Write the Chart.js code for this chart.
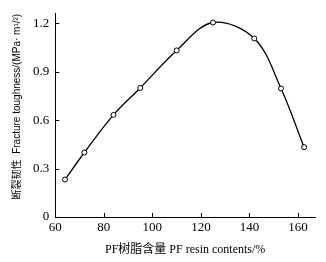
<!DOCTYPE html>
<html lang="zh">
<head>
  <meta charset="UTF-8" />
  <title>PF resin</title>
  <style>
    * { margin: 0; padding: 0; }
    body { background: #fff; }
  </style>
</head>
<body>
  <canvas id="myChart" width="326" height="262"></canvas>
  <script src="https://cdn.jsdelivr.net/npm/chart.js@4"></script>
  <script>
    const resinContent = [64, 72, 84, 95, 110, 125, 142, 153, 162.5];
    const toughness = [0.232, 0.40, 0.633, 0.80, 1.033, 1.206, 1.107, 0.797, 0.433];
    const xTicks = [60, 80, 100, 120, 140, 160];
    const yTicks = [0, 0.3, 0.6, 0.9, 1.2];

    const serif = "'Liberation Serif', 'DejaVu Serif', serif";
    const xTitleFont = "'Liberation Serif', 'Noto Sans CJK SC', serif";
    const yTitleFont = "'Liberation Sans Narrow', 'Liberation Sans', 'Noto Sans CJK SC', sans-serif";

    // inward tick marks, like the printed figure
    const innerTicks = {
      id: "innerTicks",
      afterDraw(chart) {
        const c = chart.ctx;
        const x = chart.scales.x;
        const y = chart.scales.y;
        c.save();
        c.strokeStyle = "#000";
        c.lineWidth = 1;
        c.beginPath();
        xTicks.forEach(v => {
          const px = Math.round(x.getPixelForValue(v)) + 0.5;
          c.moveTo(px, y.bottom);
          c.lineTo(px, y.bottom - 4);
        });
        yTicks.forEach(v => {
          const py = Math.round(y.getPixelForValue(v)) + 0.5;
          c.moveTo(x.left, py);
          c.lineTo(x.left + 4, py);
        });
        c.stroke();
        c.restore();
      }
    };

    const data = {
      datasets: [{
        data: resinContent.map((v, i) => ({ x: v, y: toughness[i] })),
        borderColor: "#000",
        borderWidth: 1.3,
        tension: 0.35,
        pointRadius: 2.5,
        pointBackgroundColor: "#fff",
        pointBorderColor: "#000",
        pointBorderWidth: 1,
        fill: false
      }]
    };

    const options = {
      responsive: false,
      animation: false,
      layout: { padding: { top: 10, right: 11, left: 11, bottom: 5 } },
      scales: {
        x: {
          type: "linear",
          min: 60,
          max: 167,
          afterBuildTicks: s => { s.ticks = xTicks.map(v => ({ value: v })); },
          grid: { display: false, drawTicks: false },
          border: { color: "#000", width: 1 },
          ticks: { color: "#000", padding: 3, font: { family: serif, size: 13 } },
          title: {
            display: true,
            text: "PF树脂含量 PF resin contents/%",
            color: "#000",
            padding: { top: 4, bottom: 0 },
            font: { family: xTitleFont, size: 12 }
          }
        },
        y: {
          min: 0,
          max: 1.26,
          afterBuildTicks: s => { s.ticks = yTicks.map(v => ({ value: v })); },
          grid: { display: false, drawTicks: false },
          border: { color: "#000", width: 1 },
          ticks: {
            color: "#000",
            padding: 6,
            font: { family: serif, size: 13 },
            callback: v => v === 0 ? "0" : v.toFixed(1)
          },
          title: {
            display: true,
            align: "end",
            text: "断裂韧性  Fracture toughness/(MPa· m¹/²)",
            color: "#000",
            padding: { top: 0, bottom: 4 },
            font: { family: yTitleFont, size: 10 }
          }
        }
      },
      plugins: {
        legend: { display: false },
        tooltip: { enabled: false }
      }
    };

    const ctx = document.getElementById("myChart").getContext("2d");
    const myChart = new Chart(ctx, {
      type: "line",
      data: data,
      options: options,
      plugins: [innerTicks]
    });
  </script>
</body>
</html>
